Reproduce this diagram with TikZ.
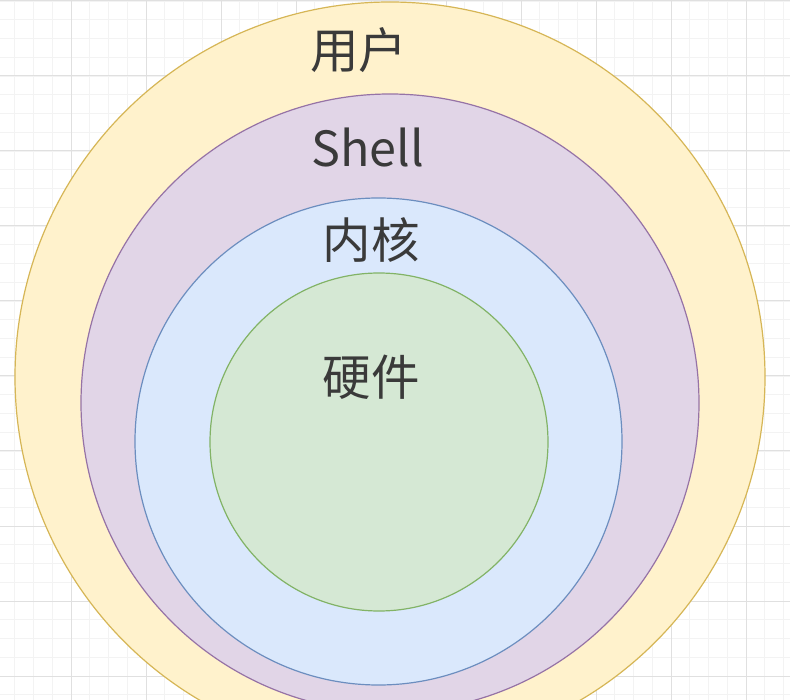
\documentclass[tikz,border=0pt]{standalone}
\usepackage{fontspec}
\setmainfont{Noto Sans CJK SC}
\definecolor{gridminor}{HTML}{F3F3F3}
\definecolor{gridmajor}{HTML}{E0E0E0}
\definecolor{yfill}{HTML}{FFF2CC}\definecolor{ydraw}{HTML}{D6B656}
\definecolor{pfill}{HTML}{E1D5E7}\definecolor{pdraw}{HTML}{9673A6}
\definecolor{bfill}{HTML}{DAE8FC}\definecolor{bdraw}{HTML}{6C8EBF}
\definecolor{gfill}{HTML}{D5E8D4}\definecolor{gdraw}{HTML}{82B366}
\definecolor{txt}{HTML}{3A3A3A}
\begin{document}
\begin{tikzpicture}[x=1pt,y=-1pt,
  ring/.style={circle,line width=1.2pt,inner sep=0pt},
  lbl/.style={text=txt,font=\fontsize{48.5}{52}\selectfont,inner sep=0pt}]
\useasboundingbox (0,0) rectangle (790,700);
\clip (0,0) rectangle (790,700);
\fill[white] (0,0) rectangle (790,700);
\foreach \i in {0,...,43} {
  \draw[gridminor,line width=0.8pt] ({-4+18.75*\i},0) -- ({-4+18.75*\i},700);
  \draw[gridminor,line width=0.8pt] (0,{1+18.75*\i}) -- (790,{1+18.75*\i});
}
\foreach \i in {0,...,11} {
  \draw[gridmajor,line width=1pt] ({-4+75*\i},0) -- ({-4+75*\i},700);
  \draw[gridmajor,line width=1pt] (0,{1+75*\i}) -- (790,{1+75*\i});
}
\node[ring,fill=yfill,draw=ydraw,minimum size=750pt] (user) at (390,377) {};
\node[ring,fill=pfill,draw=pdraw,minimum size=618pt] (shell) at (390,403) {};
\node[ring,fill=bfill,draw=bdraw,minimum size=487pt] (kernel) at (378.5,441.5) {};
\node[ring,fill=gfill,draw=gdraw,minimum size=338pt] (hw) at (379,442) {};
\node[lbl] (tuser) at (358.5,50) {用户};
\node[lbl,anchor=base] (tshell) at (368,167) {Shell};
\node[lbl] (tkernel) at (371,240) {内核};
\node[lbl] (thw) at (371,377) {硬件};
\end{tikzpicture}
\end{document}
